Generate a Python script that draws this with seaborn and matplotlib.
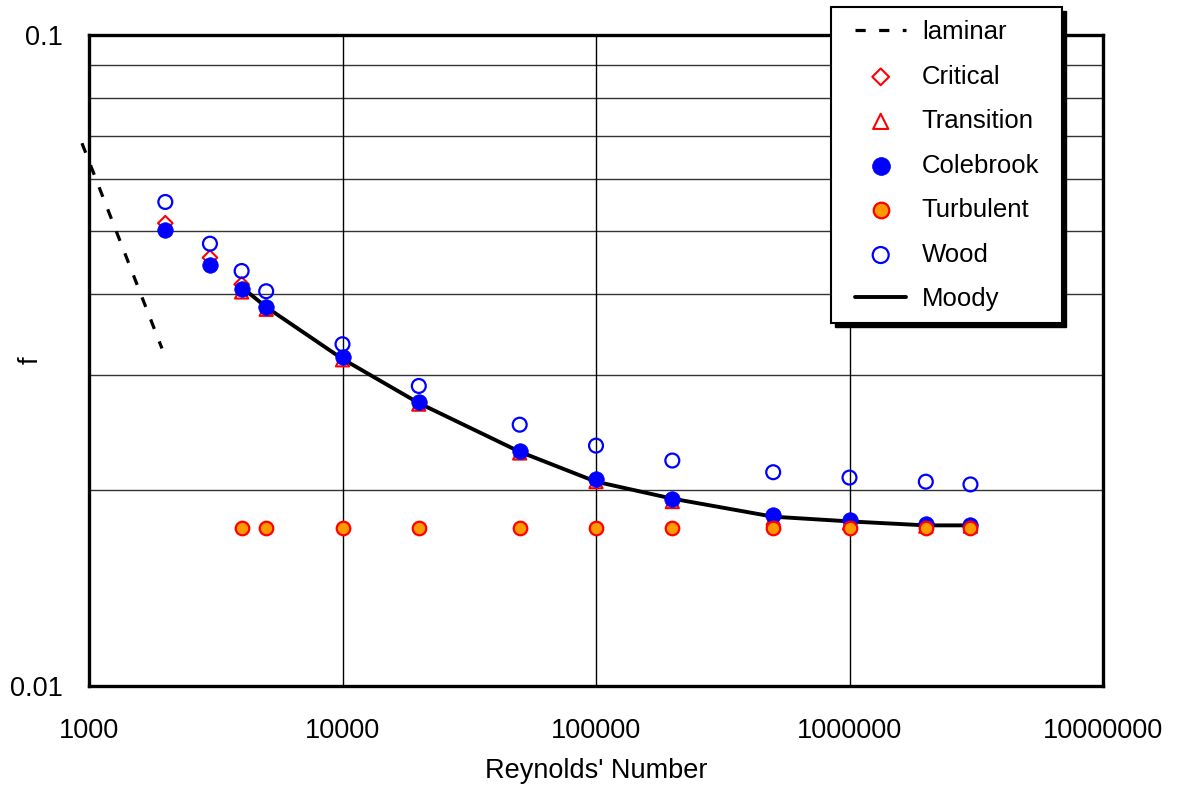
import numpy as np
import pandas as pd
import matplotlib
matplotlib.use("Agg")
import matplotlib.pyplot as plt
import seaborn as sns
from matplotlib.patches import Rectangle
from matplotlib.ticker import FixedLocator, NullLocator, FixedFormatter

sns.set_theme(style="white")
plt.rcParams['font.family'] = ['Liberation Sans', 'DejaVu Sans']
plt.rcParams['text.color'] = 'black'

# ---------------- data ----------------
laminar_re = [938, 1940]
laminar_f = [0.0682, 0.0330]

critical_re = [2000, 3000, 4000]
critical_f = [0.0514, 0.0455, 0.0414]

transition_re = [4000, 5000, 10000, 20000, 50000, 100000, 200000, 500000, 1000000, 2000000, 3000000]
transition_f = [0.0403, 0.0379, 0.0317, 0.0271, 0.0228, 0.0206, 0.0192, 0.0181, 0.0178, 0.0176, 0.0176]

colebrook_re = [2000, 3000, 4000, 5000, 10000, 20000, 50000, 100000, 200000, 500000, 1000000, 2000000, 3000000]
colebrook_f = [0.0502, 0.0443, 0.0407, 0.0382, 0.0320, 0.0273, 0.0230, 0.0208, 0.0194, 0.01832, 0.0180, 0.01774, 0.01767]

turbulent_re = [4000, 5000, 10000, 20000, 50000, 100000, 200000, 500000, 1000000, 2000000, 3000000]
turbulent_f = [0.0175] * 11

wood_re = [2000, 3000, 4000, 5000, 10000, 20000, 50000, 100000, 200000, 500000, 1000000, 2000000, 3000000]
wood_f = [0.0554, 0.0478, 0.0434, 0.0404, 0.0335, 0.0289, 0.0252, 0.0234, 0.0222, 0.0213, 0.0209, 0.0206, 0.0204]

moody_re = [4000, 5000, 10000, 20000, 50000, 100000, 200000, 500000, 1000000, 2000000, 3000000]
moody_f = [0.0410, 0.0382, 0.0318, 0.0272, 0.0229, 0.0206, 0.0194, 0.0182, 0.0179, 0.01765, 0.01765]

x_ticks = [1000, 10000, 100000, 1000000, 10000000]
x_tick_labels = ["1000", "10000", "100000", "1000000", "10000000"]
y_ticks = [0.01, 0.1]
y_tick_labels = ["0.01", "0.1"]
y_grid = [0.02, 0.03, 0.04, 0.05, 0.06, 0.07, 0.08, 0.09]

# ---------------- figure ----------------
W, H = 1178, 792
fig = plt.figure(figsize=(W / 100, H / 100), dpi=100)
ax = fig.add_axes([89/W, 1-686/H, (1103-89)/W, (686-35)/H])
ax.set_xscale('log')
ax.set_yscale('log')
ax.set_xlim(1000, 1e7)
ax.set_ylim(0.01, 0.1)

# grid lines
for g in y_grid:
    ax.axhline(g, color='#333333', lw=1.0, zorder=1)
for g in x_ticks[1:-1]:
    ax.axvline(g, color='black', lw=1.0, zorder=1)

lam = pd.DataFrame({'Re': laminar_re, 'f': laminar_f})
sns.lineplot(data=lam, x='Re', y='f', ax=ax, color='black', lw=2.3,
             dashes=False, label='laminar', zorder=3, clip_on=False)
ax.lines[-1].set_dashes([3.2, 4.2])

moody = pd.DataFrame({'Re': moody_re, 'f': moody_f})
sns.lineplot(data=moody, x='Re', y='f', ax=ax, color='black', lw=2.8,
             label='Moody', zorder=3)

crit = pd.DataFrame({'Re': critical_re, 'f': critical_f})
sns.scatterplot(data=crit, x='Re', y='f', ax=ax, marker='D', s=55,
                facecolor='none', edgecolor='red', linewidth=1.5,
                label='Critical', zorder=4)

trans = pd.DataFrame({'Re': transition_re, 'f': transition_f})
sns.scatterplot(data=trans, x='Re', y='f', ax=ax, marker='^', s=90,
                facecolor='none', edgecolor='red', linewidth=1.5,
                label='Transition', zorder=4)

cole = pd.DataFrame({'Re': colebrook_re, 'f': colebrook_f})
sns.scatterplot(data=cole, x='Re', y='f', ax=ax, marker='o', s=125,
                color='blue', edgecolor='blue', linewidth=0.5,
                label='Colebrook', zorder=5)

turb = pd.DataFrame({'Re': turbulent_re, 'f': turbulent_f})
sns.scatterplot(data=turb, x='Re', y='f', ax=ax, marker='o', s=95,
                color='#ff9900', edgecolor='red', linewidth=1.6,
                label='Turbulent', zorder=6)

wood = pd.DataFrame({'Re': wood_re, 'f': wood_f})
sns.scatterplot(data=wood, x='Re', y='f', ax=ax, marker='o', s=100,
                facecolor='none', edgecolor='blue', linewidth=1.6,
                label='Wood', zorder=6)

# axes styling
for sp in ax.spines.values():
    sp.set_color('black')
    sp.set_linewidth(2.4)
    sp.set_zorder(7)
ax.xaxis.set_major_locator(FixedLocator(x_ticks))
ax.xaxis.set_major_formatter(FixedFormatter(x_tick_labels))
ax.xaxis.set_minor_locator(NullLocator())
ax.yaxis.set_major_locator(FixedLocator(y_ticks))
ax.yaxis.set_major_formatter(FixedFormatter(y_tick_labels))
ax.yaxis.set_minor_locator(NullLocator())
ax.tick_params(axis='x', length=0, pad=23, labelsize=19.5, colors='black')
ax.tick_params(axis='y', length=0, pad=19, labelsize=19.5, colors='black')
ax.set_xlabel("Reynolds' Number", fontsize=19.5, color='black', labelpad=10)
ax.set_ylabel("f", fontsize=19.5, color='black')
ax.yaxis.set_label_coords((44 - 89) / (1103 - 89), 0.5)
ax.grid(False)

# legend (frame + shadow drawn as figure patches)
h, l = ax.get_legend_handles_labels()
ax.get_legend().remove()
order = ['laminar', 'Critical', 'Transition', 'Colebrook', 'Turbulent', 'Wood', 'Moody']
hd = dict(zip(l, h))

bx0, by0, bx1, by1 = 831, 7, 1062, 323
shadow = Rectangle((bx0 / W + 4 / W, 1 - by1 / H - 4 / H), (bx1 - bx0) / W, (by1 - by0) / H,
                   transform=fig.transFigure, facecolor='black', edgecolor='black',
                   zorder=8)
frame = Rectangle((bx0 / W, 1 - by1 / H), (bx1 - bx0) / W, (by1 - by0) / H,
                  transform=fig.transFigure, facecolor='white', edgecolor='black',
                  linewidth=1.5, zorder=9)
fig.patches.extend([shadow, frame])

leg = fig.legend([hd[k] for k in order], order, loc='upper left',
                 bbox_to_anchor=(855 / W, 1 - 20 / H), bbox_transform=fig.transFigure,
                 borderaxespad=0, fontsize=18.5, frameon=False,
                 borderpad=0, labelspacing=0.8, labelcolor='black',
                 handlelength=2.0, handletextpad=0.6, markerscale=1.15)
leg.set_zorder(10)

fig.savefig('out.png', dpi=100)
